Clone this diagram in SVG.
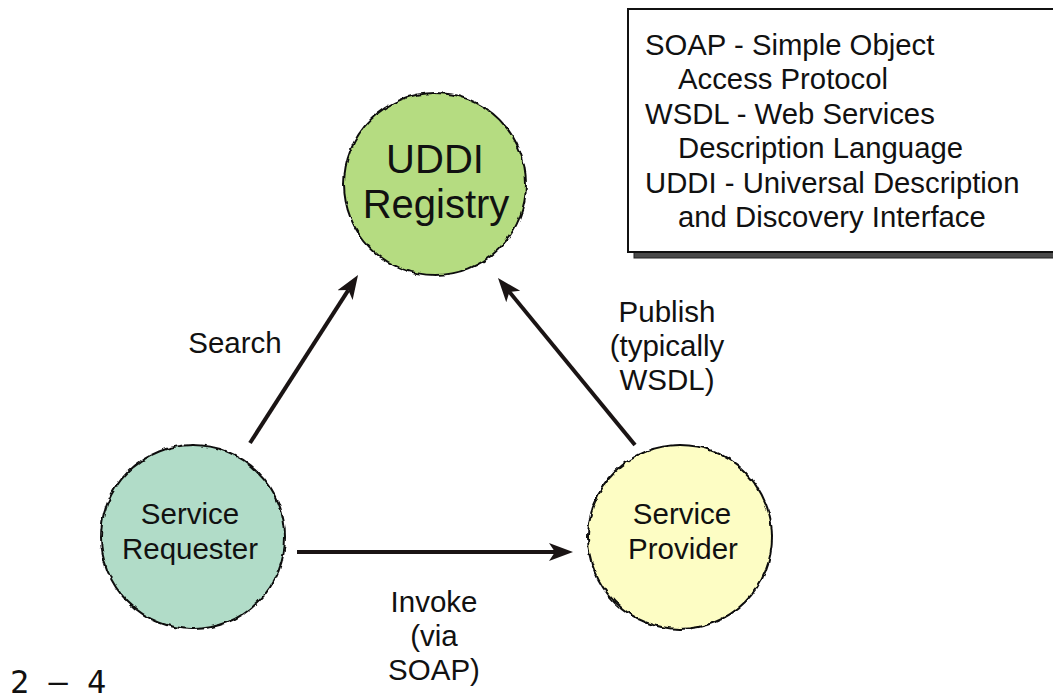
<svg xmlns="http://www.w3.org/2000/svg" width="1053" height="700" viewBox="0 0 1053 700">
  <style>
    .lbl { font-family: "Liberation Sans", Arial, sans-serif; font-size: 29.5px; fill: #111; text-anchor: middle; }
    .big { font-family: "Liberation Sans", Arial, sans-serif; font-size: 40px; fill: #111; text-anchor: middle; }
    .box { font-family: "Liberation Sans", Arial, sans-serif; font-size: 29.3px; fill: #111; }
    .node { stroke: #111; stroke-width: 2; filter: url(#rough); }
    .conn { stroke: #1a1414; stroke-width: 4; fill: none; marker-end: url(#arrow); }
  </style>
  <defs>
    <filter id="rough" x="-10%" y="-10%" width="120%" height="120%">
      <feTurbulence type="fractalNoise" baseFrequency="0.15" numOctaves="1" seed="3" result="n"/>
      <feDisplacementMap in="SourceGraphic" in2="n" scale="4.5" xChannelSelector="R" yChannelSelector="G"/>
    </filter>
    <marker id="arrow" viewBox="0 0 24 20" markerWidth="24" markerHeight="20" refX="6" refY="10" orient="auto" markerUnits="userSpaceOnUse">
      <path d="M0,1 L24,10 L0,19 L6,10 Z" fill="#1a1414"/>
    </marker>
  </defs>
  <rect width="1053" height="700" fill="#ffffff"/>

  <g id="legend">
    <rect x="634" y="15" width="440" height="243" fill="#4a4a4a" stroke="#222" stroke-width="1"/>
    <rect x="628" y="9" width="440" height="243" fill="#ffffff" stroke="#111" stroke-width="2"/>
    <text class="box" x="645" y="55">SOAP - Simple Object</text>
    <text class="box" x="678" y="89">Access Protocol</text>
    <text class="box" x="645" y="124">WSDL - Web Services</text>
    <text class="box" x="678" y="158">Description Language</text>
    <text class="box" x="645" y="193">UDDI - Universal Description</text>
    <text class="box" x="678" y="227">and Discovery Interface</text>
  </g>

  <g id="connectors">
    <g id="search">
      <line class="conn" x1="250" y1="443" x2="348.3" y2="290.1"/>
      <text class="lbl" x="235" y="353">Search</text>
    </g>
    <g id="publish">
      <line class="conn" x1="635" y1="445" x2="509.4" y2="291.9"/>
      <text class="lbl" x="667" y="322">Publish</text>
      <text class="lbl" x="667" y="356">(typically</text>
      <text class="lbl" x="667" y="390">WSDL)</text>
    </g>
    <g id="invoke">
      <line class="conn" x1="297" y1="552" x2="555" y2="552"/>
      <text class="lbl" x="434" y="612">Invoke</text>
      <text class="lbl" x="434" y="646">(via</text>
      <text class="lbl" x="434" y="680">SOAP)</text>
    </g>
  </g>

  <g id="uddi-registry">
    <circle class="node" cx="435" cy="184" r="91" fill="#b5dc81"/>
    <text class="big" x="435" y="173">UDDI</text>
    <text class="big" x="436" y="218">Registry</text>
  </g>

  <g id="service-requester">
    <circle class="node" cx="193" cy="537" r="92" fill="#b1dcc8"/>
    <text class="lbl" x="190" y="524">Service</text>
    <text class="lbl" x="190" y="559">Requester</text>
  </g>

  <g id="service-provider">
    <circle class="node" cx="680" cy="537" r="92" fill="#fdfdc4"/>
    <text class="lbl" x="682" y="524">Service</text>
    <text class="lbl" x="683" y="559">Provider</text>
  </g>

  <text x="10" y="693" font-family="DejaVu Sans Mono, monospace" font-size="32" fill="#111">2 – 4</text>
</svg>
